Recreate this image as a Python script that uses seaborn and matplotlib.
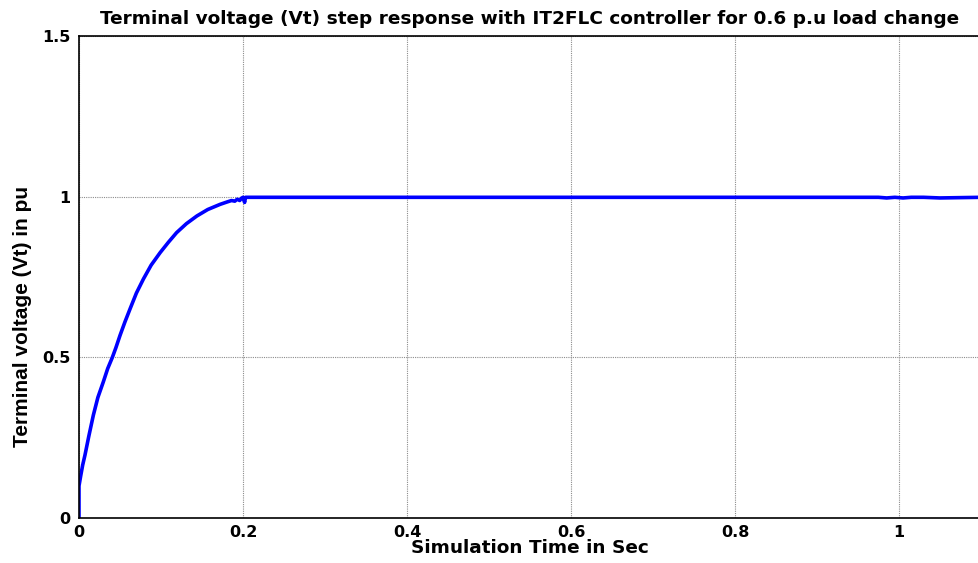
import matplotlib
matplotlib.use("Agg")
import matplotlib.pyplot as plt
import pandas as pd
import seaborn as sns

# step response (time in s, Vt in pu)
time_s = [0.0, 0.0, 0.002, 0.0045, 0.0073, 0.012, 0.0175, 0.023, 0.0297, 0.035,
          0.0407, 0.045, 0.050, 0.056, 0.0623, 0.070, 0.0786, 0.088, 0.099,
          0.109, 0.119, 0.131, 0.1438, 0.157, 0.172, 0.180, 0.186, 0.190,
          0.193, 0.196, 0.198, 0.200, 0.202, 0.203, 0.205, 0.21, 0.30, 0.50,
          0.70, 0.90, 0.975, 0.985, 0.995, 1.005, 1.015, 1.03, 1.05, 1.1]
vt_pu = [0.0, 0.10, 0.13, 0.165, 0.196, 0.255, 0.32, 0.375, 0.424, 0.465,
         0.50, 0.53, 0.568, 0.61, 0.651, 0.70, 0.744, 0.787, 0.826,
         0.858, 0.888, 0.916, 0.940, 0.960, 0.976, 0.983, 0.988, 0.986,
         0.992, 0.988, 0.995, 0.998, 0.982, 0.998, 0.998, 0.998, 0.998, 0.998,
         0.998, 0.998, 0.998, 0.996, 0.998, 0.996, 0.998, 0.998, 0.996, 0.998]

x_ticks = [0, 0.2, 0.4, 0.6, 0.8, 1.0]
x_tick_labels = ["0", "0.2", "0.4", "0.6", "0.8", "1"]
y_ticks = [0, 0.5, 1.0, 1.5]
y_tick_labels = ["0", "0.5", "1", "1.5"]

sns.set_theme(style="white")
plt.rcParams["font.family"] = ["DejaVu Sans"]
plt.rcParams["text.color"] = "black"
plt.rcParams["axes.labelcolor"] = "black"
plt.rcParams["xtick.color"] = "black"
plt.rcParams["ytick.color"] = "black"
plt.rcParams["xtick.direction"] = "in"
plt.rcParams["ytick.direction"] = "in"

df = pd.DataFrame({"t": time_s, "vt": vt_pu})

fig = plt.figure(figsize=(9.79, 5.63), dpi=100)
ax = fig.add_axes([79 / 979, 1 - 518 / 563, 1 - 79 / 979 + 0.002, (518 - 36) / 563])

sns.lineplot(data=df, x="t", y="vt", ax=ax, color="#0000ff", linewidth=2.6,
             sort=False, estimator=None)

ax.set_xlim(0, 1.1)
ax.set_ylim(0, 1.5)
ax.set_xticks(x_ticks)
ax.set_xticklabels(x_tick_labels, fontsize=11.5, fontweight="bold")
ax.set_yticks(y_ticks)
ax.set_yticklabels(y_tick_labels, fontsize=11.5, fontweight="bold")
ax.tick_params(axis="x", length=5, width=1, pad=5)
ax.tick_params(axis="y", length=5, width=1, pad=6)

ax.grid(True, color="#8c8c8c", linestyle=(0, (1, 1)), linewidth=0.8)
for s in ax.spines.values():
    s.set_color("black")
    s.set_linewidth(1.2)

ax.set_title("Terminal voltage (Vt) step response with IT2FLC controller for 0.6 p.u load change",
             fontsize=13.3, fontweight="bold", pad=9)
ax.set_xlabel("Simulation Time in Sec", fontsize=13.3, fontweight="bold", labelpad=-1)
ax.set_ylabel("Terminal voltage (Vt) in pu", fontsize=15, fontweight="bold",
              family=["Liberation Sans", "DejaVu Sans"])
ax.yaxis.set_label_coords(-0.052, 0.419)

fig.savefig("out.png", dpi=100)
